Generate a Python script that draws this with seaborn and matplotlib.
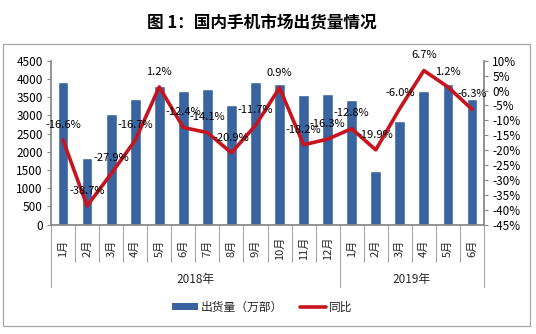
import numpy as np
import pandas as pd
import matplotlib
matplotlib.use("Agg")
import matplotlib.pyplot as plt
import seaborn as sns
from matplotlib.patches import Rectangle
from matplotlib.lines import Line2D
from matplotlib.patches import Patch

# ---- data ----
months = ["1月", "2月", "3月", "4月", "5月", "6月", "7月", "8月", "9月", "10月", "11月", "12月",
          "1月", "2月", "3月", "4月", "5月", "6月"]
years = ["2018年"] * 12 + ["2019年"] * 6
shipments = [3920, 1820, 3030, 3440, 3797, 3678, 3715, 3275, 3916,
             3870, 3550, 3586, 3422, 1464, 2855, 3669, 3861, 3440]
yoy = [-16.6, -38.7, -27.9, -16.7, 1.2, -12.4, -14.1, -20.9, -11.7,
       0.9, -18.2, -16.3, -12.8, -19.9, -6.0, 6.7, 1.2, -6.3]
title = "图 1：国内手机市场出货量情况"
bar_label = "出货量（万部）"
line_label = "同比"

sns.set_theme(style="white")
plt.rcParams['font.family'] = ['Noto Sans CJK SC', 'DejaVu Sans']
plt.rcParams['axes.unicode_minus'] = False

W, H = 536, 334
fig = plt.figure(figsize=(W / 100, H / 100), dpi=100)
fig.patch.set_facecolor("white")

# frame
fig.patches.append(Rectangle((3 / W, 1 - 326 / H), 527 / W, (326 - 44) / H,
                             transform=fig.transFigure, fill=False,
                             edgecolor="#a6a6a6", linewidth=0.9))
fig.text(262 / W, 1 - 22 / H, title, ha="center", va="center",
         fontsize=12, fontweight="bold", color="black")

left, right, top, bottom = 51, 484, 60.7, 224.7
ax = fig.add_axes([left / W, 1 - bottom / H, (right - left) / W, (bottom - top) / H])

keys = [f"{y}{m}" for y, m in zip(years, months)]
df = pd.DataFrame({"key": keys, "shipments": shipments, "yoy": yoy, "pos": np.arange(len(keys))})

bar_color = "#3a64a0"
sns.barplot(data=df, x="key", y="shipments", order=keys, color=bar_color,
            width=0.45, saturation=1, ax=ax)
ax.set_ylim(0, 4500)
ax.set_yticks(np.arange(0, 4501, 500))
ax.set_xlim(-0.5, len(keys) - 0.5)
ax.set_xlabel("")
ax.set_ylabel("")

ax2 = ax.twinx()
sns.lineplot(data=df, x="pos", y="yoy", color="#c8141e", linewidth=2.6, ax=ax2)
ax2.set_ylim(-45, 10)
ax2.set_yticks(np.arange(-45, 11, 5))
ax2.set_yticklabels([f"{v}%" for v in range(-45, 11, 5)])
ax2.set_xlim(-0.5, len(keys) - 0.5)
ax2.set_xlabel("")
ax2.set_ylabel("")

for i, v in enumerate(yoy):
    ax2.annotate(f"{v:.1f}%", (i, v), xytext=(0, 11), textcoords="offset points",
                 ha="center", va="center", fontsize=8, color="black")

spine_c = "#868686"
for a in (ax, ax2):
    for s in a.spines.values():
        s.set_visible(False)
    a.tick_params(axis="y", length=3, width=0.8, color=spine_c, labelsize=8.5,
                  labelcolor="black", pad=3)
ax.spines["left"].set_visible(True)
ax.spines["left"].set_color(spine_c)
ax2.spines["right"].set_visible(True)
ax2.spines["right"].set_color(spine_c)
ax.spines["bottom"].set_visible(True)
ax.spines["bottom"].set_color(spine_c)
ax.tick_params(axis="y", left=True, direction="out")
ax2.tick_params(axis="y", right=True, direction="out")

# category axis
ax.set_xticks(np.arange(len(keys)))
ax.set_xticklabels(months, rotation=90, fontsize=8)
ax.tick_params(axis="x", length=0, pad=4)
for lbl in ax.get_xticklabels():
    lbl.set_va("center")
    lbl.set_y(-0.11)

ax_h = bottom - top
trans = ax.get_xaxis_transform()
year_bounds = [-0.5, 11.5, 17.5]
for i in range(len(keys) + 1):
    x = i - 0.5
    depth = (287 - bottom) if x in year_bounds else (262 - bottom)
    ax.plot([x, x], [0, -depth / ax_h], transform=trans, color="#a6a6a6",
            linewidth=0.8, clip_on=False)
for lab, x in [("2018年", 5.5), ("2019年", 14.5)]:
    ax.text(x, -(279 - bottom) / ax_h, lab, transform=trans, ha="center",
            va="center", fontsize=8.5)

handles = [Patch(facecolor=bar_color, edgecolor="none"),
           Line2D([0], [0], color="#c8141e", linewidth=2.6)]
fig.legend(handles, [bar_label, line_label], loc="center",
           bbox_to_anchor=(262 / W, 1 - 307 / H), ncol=2, frameon=False,
           fontsize=8.5, handlelength=2.2, handleheight=0.6, columnspacing=1.5,
           handletextpad=0.2)

fig.savefig("out.png", dpi=100)
